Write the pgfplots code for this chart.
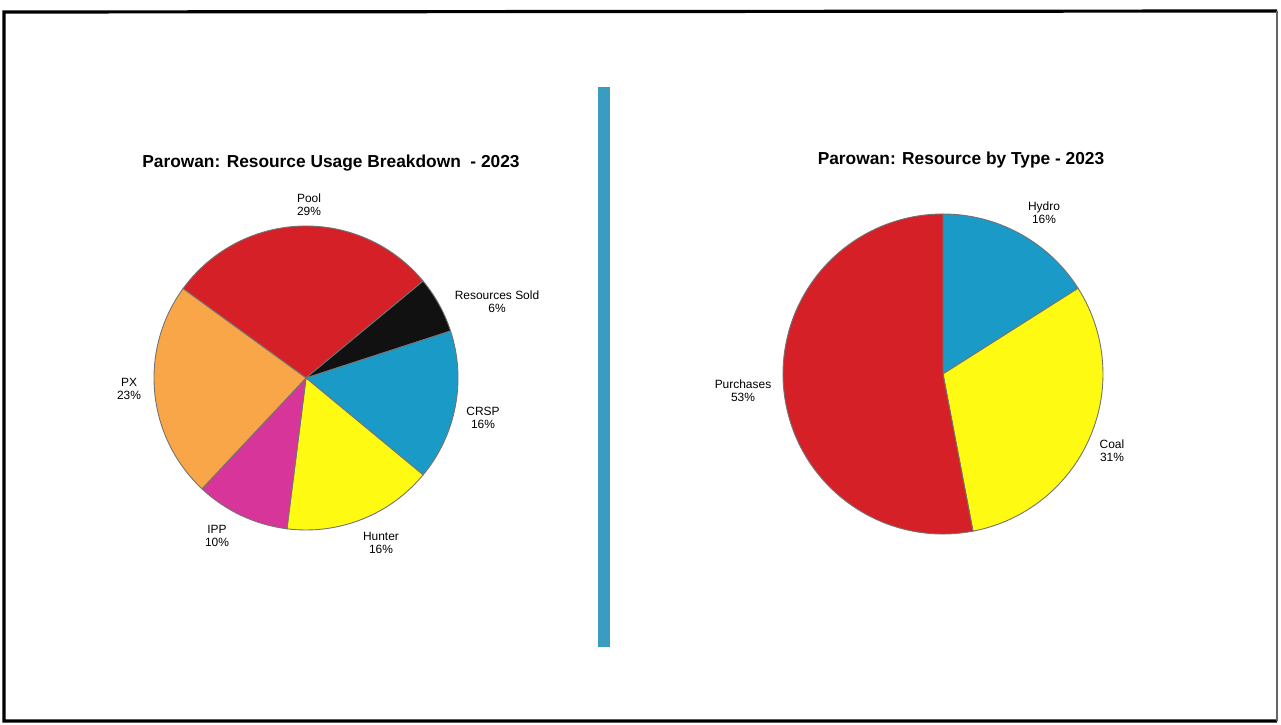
\documentclass[border=0pt]{standalone}
\usepackage{fontspec}
\setmainfont{Liberation Sans}
\usepackage{pgfplots}
\usepackage{pgfplotstable}
\pgfplotsset{compat=1.18}
\definecolor{cRed}{HTML}{D42026}
\definecolor{cOrange}{HTML}{F9A648}
\definecolor{cBlack}{HTML}{111111}
\definecolor{cBlue}{HTML}{1A9AC6}
\definecolor{cYellow}{HTML}{FFFA12}
\definecolor{cMagenta}{HTML}{D7359A}
\definecolor{cBar}{HTML}{3A9CC0}

% percent values, clockwise order
\pgfplotstableread{
label pct col
Pool 29 cRed
ResourcesSold 6 cBlack
CRSP 16 cBlue
Hunter 16 cYellow
IPP 10 cMagenta
PX 23 cOrange
}\leftdata
\pgfplotstableread{
label pct col
Hydro 16 cBlue
Coal 31 cYellow
Purchases 53 cRed
}\rightdata

% #1 table, #2 cx, #3 cy, #4 radius, #5 start angle
\newcommand\drawpie[5]{%
  \pgfplotstablegetrowsof{#1}%
  \pgfmathtruncatemacro\N{\pgfplotsretval-1}%
  \xdef\curang{#5}%
  \pgfplotsforeachungrouped \i in {0,...,\N}{%
    \pgfplotstablegetelem{\i}{pct}\of{#1}\let\p\pgfplotsretval
    \pgfplotstablegetelem{\i}{col}\of{#1}\let\c\pgfplotsretval
    \pgfmathsetmacro\endang{\curang-3.6*\p}%
    \edef\temp{\noexpand\filldraw[fill=\c, draw=black!55, line width=0.45pt]
      (axis cs:#2,#3) -- ++(\curang:#4) arc[start angle=\curang, end angle=\endang, radius=#4] -- cycle;}%
    \temp
    \xdef\curang{\endang}%
  }%
}
\newcommand\lf{\fontsize{6}{6.6}\selectfont}
\newcommand\tf{\fontsize{8.7}{9.5}\selectfont\bfseries}

\begin{document}
\begin{tikzpicture}
\begin{axis}[
  width=640.5bp, height=362.5bp, scale only axis,
  xmin=0, xmax=1281, ymin=0, ymax=725,
  hide axis, clip=false,
]
\fill[white] (axis cs:0,0) rectangle (axis cs:1281,725);
% frame
\draw[black, line width=1.6pt] (axis cs:1277,4) -- (axis cs:4,4) -- (axis cs:4,713) -- (axis cs:1277,714);
\draw[black!60, line width=0.6pt] (axis cs:1277,4) -- (axis cs:1277,714);
% divider
\fill[cBar] (axis cs:598,78) rectangle (axis cs:610,638);

\drawpie{\leftdata}{306}{347}{76bp}{144}
\drawpie{\rightdata}{943}{351}{80bp}{90}

\node[font=\tf] at (axis cs:331,562) {Parowan: Resource Usage Breakdown\ \ - 2023};
\node[font=\tf] at (axis cs:961,565) {Parowan: Resource by Type - 2023};

\node[font=\lf, align=center] at (axis cs:309,520) {Pool\\29\%};
\node[font=\lf, align=center] at (axis cs:497,423) {Resources Sold\\6\%};
\node[font=\lf, align=center] at (axis cs:483,307) {CRSP\\16\%};
\node[font=\lf, align=center] at (axis cs:381,182) {Hunter\\16\%};
\node[font=\lf, align=center] at (axis cs:217,189) {IPP\\10\%};
\node[font=\lf, align=center] at (axis cs:129,336) {PX\\23\%};

\node[font=\lf, align=center] at (axis cs:1044,512) {Hydro\\16\%};
\node[font=\lf, align=center] at (axis cs:743,334) {Purchases\\53\%};
\node[font=\lf, align=center] at (axis cs:1112,274) {Coal\\31\%};
\end{axis}
\end{tikzpicture}
\end{document}
